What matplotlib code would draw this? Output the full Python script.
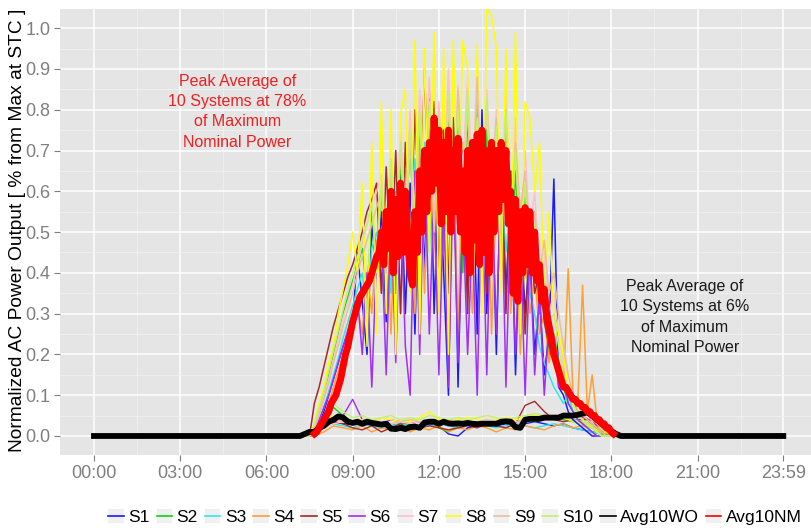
import numpy as np
import matplotlib
matplotlib.use("Agg")
import matplotlib.pyplot as plt
from matplotlib.lines import Line2D
from matplotlib.patches import Rectangle

plt.rcParams['font.family'] = ['Liberation Sans', 'DejaVu Sans']

# ---------------------------------------------------------------- data
series_names = ["S1", "S2", "S3", "S4", "S5", "S6", "S7", "S8", "S9", "S10"]
series_colors = ["#1a1aff", "#10d010", "#30e8e8", "#ffa030", "#a52a2a",
                 "#9f30f5", "#ffc0cb", "#ffff00", "#e8c09a", "#c4f06a"]

tick_hours = [0, 3, 6, 9, 12, 15, 18, 21, 23 + 59 / 60]
tick_labels = ["00:00", "03:00", "06:00", "09:00", "12:00", "15:00",
               "18:00", "21:00", "23:59"]

# clear day: 10-minute samples 07:00 .. 19:00 (one row per hour)
S1_nm = [0, 0, 0, 0, 0.01, 0.03,
         0.06, 0.10, 0.14, 0.18, 0.22, 0.25,
         0.28, 0.45, 0.33, 0.20, 0.52, 0.40,
         0.55, 0.28, 0.60, 0.35, 0.65, 0.30,
         0.62, 0.25, 0.70, 0.40, 0.85, 0.30,
         0.65, 0.40, 0.10, 0.78, 0.12, 0.60,
         0.35, 0.70, 0.25, 0.80, 0.30, 0.65,
         0.20, 0.70, 0.35, 0.60, 0.15, 0.55,
         0.30, 0.45, 0.20, 0.35, 0.15, 0.25,
         0.63, 0.12, 0.10, 0.06, 0.04, 0.03,
         0.02, 0.01, 0, 0, 0, 0,
         0, 0, 0, 0, 0, 0,
         0]
S2_nm = [0, 0, 0, 0, 0.02, 0.06,
         0.10, 0.15, 0.20, 0.25, 0.30, 0.34,
         0.38, 0.42, 0.46, 0.35, 0.55, 0.45,
         0.60, 0.40, 0.65, 0.35, 0.68, 0.50,
         0.72, 0.45, 0.75, 0.55, 0.80, 0.50,
         0.75, 0.45, 0.82, 0.50, 0.78, 0.40,
         0.80, 0.45, 0.85, 0.35, 0.75, 0.50,
         0.70, 0.40, 0.78, 0.45, 0.65, 0.35,
         0.60, 0.40, 0.50, 0.30, 0.35, 0.20,
         0.25, 0.18, 0.12, 0.08, 0.06, 0.05,
         0.04, 0.03, 0.02, 0.01, 0, 0,
         0, 0, 0, 0, 0, 0,
         0]
S3_nm = [0, 0, 0, 0, 0.01, 0.04,
         0.07, 0.11, 0.15, 0.19, 0.24, 0.28,
         0.32, 0.36, 0.40, 0.30, 0.46, 0.50,
         0.42, 0.55, 0.35, 0.60, 0.45, 0.62,
         0.40, 0.68, 0.50, 0.72, 0.45, 0.70,
         0.55, 0.68, 0.40, 0.70, 0.55, 0.65,
         0.45, 0.70, 0.50, 0.72, 0.40, 0.65,
         0.50, 0.62, 0.45, 0.58, 0.35, 0.50,
         0.40, 0.35, 0.30, 0.22, 0.18, 0.15,
         0.12, 0.10, 0.08, 0.10, 0.06, 0.04,
         0.03, 0.02, 0.01, 0, 0, 0,
         0, 0, 0, 0, 0, 0,
         0]
S4_nm = [0, 0, 0, 0, 0, 0.02,
         0.05, 0.08, 0.12, 0.16, 0.20, 0.24,
         0.28, 0.32, 0.25, 0.40, 0.30, 0.48,
         0.35, 0.55, 0.25, 0.60, 0.30, 0.65,
         0.50, 0.30, 0.70, 0.35, 0.72, 0.50,
         0.30, 0.75, 0.40, 0.70, 0.25, 0.72,
         0.50, 0.30, 0.70, 0.45, 0.68, 0.25,
         0.60, 0.40, 0.65, 0.30, 0.55, 0.20,
         0.45, 0.30, 0.40, 0.25, 0.30, 0.18,
         0.25, 0.15, 0.12, 0.41, 0.10, 0.08,
         0.37, 0.06, 0.15, 0.04, 0.02, 0.01,
         0, 0, 0, 0, 0, 0,
         0]
S5_nm = [0, 0, 0, 0, 0.08, 0.12,
         0.17, 0.22, 0.27, 0.31, 0.35, 0.39,
         0.42, 0.46, 0.50, 0.55, 0.58, 0.62,
         0.35, 0.66, 0.40, 0.70, 0.30, 0.72,
         0.45, 0.80, 0.50, 0.90, 0.55, 0.82,
         0.40, 0.75, 0.35, 0.78, 0.50, 0.70,
         0.30, 0.72, 0.45, 0.75, 0.35, 0.68,
         0.55, 0.70, 0.30, 0.65, 0.40, 0.55,
         0.25, 0.50, 0.35, 0.40, 0.28, 0.22,
         0.20, 0.15, 0.12, 0.10, 0.08, 0.06,
         0.05, 0.04, 0.03, 0.02, 0.01, 0,
         0, 0, 0, 0, 0, 0,
         0]
S6_nm = [0, 0, 0, 0, 0.01, 0.04,
         0.07, 0.10, 0.14, 0.18, 0.22, 0.26,
         0.30, 0.34, 0.20, 0.40, 0.12, 0.45,
         0.50, 0.15, 0.55, 0.18, 0.60, 0.22,
         0.10, 0.65, 0.20, 0.70, 0.25, 0.60,
         0.15, 0.58, 0.12, 0.65, 0.18, 0.55,
         0.20, 0.50, 0.10, 0.60, 0.15, 0.62,
         0.25, 0.65, 0.12, 0.55, 0.20, 0.50,
         0.10, 0.45, 0.15, 0.35, 0.10, 0.28,
         0.22, 0.12, 0.15, 0.08, 0.06, 0.04,
         0.03, 0.02, 0.01, 0, 0, 0,
         0, 0, 0, 0, 0, 0,
         0]
S7_nm = [0, 0, 0, 0, 0.02, 0.06,
         0.10, 0.14, 0.19, 0.24, 0.29, 0.33,
         0.37, 0.42, 0.47, 0.52, 0.56, 0.60,
         0.64, 0.45, 0.70, 0.50, 0.75, 0.55,
         0.80, 0.50, 0.85, 0.60, 0.88, 0.55,
         0.82, 0.60, 0.90, 0.55, 0.86, 0.65,
         0.88, 0.60, 0.92, 0.55, 0.85, 0.60,
         0.80, 0.55, 0.85, 0.50, 0.78, 0.45,
         0.70, 0.50, 0.60, 0.40, 0.45, 0.30,
         0.35, 0.25, 0.18, 0.12, 0.08, 0.05,
         0.04, 0.03, 0.02, 0.01, 0, 0,
         0, 0, 0, 0, 0, 0,
         0]
S8_nm = [0, 0, 0, 0, 0.03, 0.08,
         0.12, 0.18, 0.22, 0.30, 0.36, 0.42,
         0.50, 0.40, 0.62, 0.22, 0.72, 0.25,
         0.82, 0.30, 0.80, 0.20, 0.79, 0.85,
         0.35, 0.97, 0.25, 0.95, 0.45, 0.99,
         0.30, 0.95, 0.20, 0.97, 0.50, 0.97,
         0.90, 0.40, 0.96, 0.30, 1.05, 1.03,
         0.95, 0.35, 0.95, 0.40, 0.99, 0.25,
         0.82, 0.78, 0.60, 0.72, 0.35, 0.55,
         0.30, 0.25, 0.20, 0.12, 0.08, 0.05,
         0.04, 0.03, 0.02, 0.01, 0, 0,
         0, 0, 0, 0, 0, 0,
         0]
S9_nm = [0, 0, 0, 0, 0.02, 0.05,
         0.09, 0.13, 0.18, 0.22, 0.27, 0.31,
         0.35, 0.40, 0.44, 0.48, 0.52, 0.56,
         0.60, 0.40, 0.65, 0.45, 0.70, 0.50,
         0.72, 0.45, 0.78, 0.55, 0.80, 0.50,
         0.75, 0.55, 0.82, 0.50, 0.85, 0.60,
         0.80, 0.55, 0.88, 0.50, 0.82, 0.60,
         0.78, 0.50, 0.80, 0.45, 0.72, 0.55,
         0.65, 0.45, 0.55, 0.40, 0.48, 0.35,
         0.40, 0.30, 0.22, 0.15, 0.10, 0.06,
         0.05, 0.04, 0.03, 0.02, 0.01, 0,
         0, 0, 0, 0, 0, 0,
         0]
S10_nm = [0, 0, 0, 0, 0.03, 0.07,
          0.11, 0.16, 0.21, 0.26, 0.31, 0.36,
          0.40, 0.44, 0.48, 0.52, 0.57, 0.40,
          0.62, 0.45, 0.68, 0.50, 0.72, 0.48,
          0.75, 0.55, 0.80, 0.50, 0.82, 0.60,
          0.78, 0.55, 0.84, 0.60, 0.80, 0.52,
          0.85, 0.55, 0.78, 0.62, 0.83, 0.50,
          0.76, 0.52, 0.80, 0.48, 0.70, 0.45,
          0.62, 0.40, 0.52, 0.35, 0.40, 0.28,
          0.30, 0.22, 0.15, 0.10, 0.08, 0.05,
          0.04, 0.03, 0.02, 0.01, 0, 0,
          0, 0, 0, 0, 0, 0,
          0]

# clear-day average: 5-minute samples 07:00 .. 19:00 (one row per hour)
avg10_nm = [0, 0, 0, 0, 0, 0, 0, 0, 0.005, 0.01, 0.02, 0.03,
            0.04, 0.05, 0.06, 0.08, 0.09, 0.10, 0.12, 0.14, 0.17, 0.20, 0.22, 0.25,
            0.28, 0.30, 0.32, 0.34, 0.35, 0.36, 0.37, 0.38, 0.40, 0.42, 0.44, 0.45,
            0.50, 0.42, 0.55, 0.46, 0.60, 0.40, 0.58, 0.44, 0.62, 0.45, 0.60, 0.48,
            0.40, 0.37, 0.55, 0.45, 0.65, 0.50, 0.70, 0.55, 0.72, 0.60, 0.78, 0.62,
            0.75, 0.52, 0.72, 0.55, 0.75, 0.50, 0.70, 0.55, 0.73, 0.50, 0.65, 0.45,
            0.70, 0.40, 0.72, 0.48, 0.74, 0.42, 0.75, 0.45, 0.70, 0.40, 0.72, 0.50,
            0.70, 0.55, 0.72, 0.58, 0.70, 0.52, 0.60, 0.35, 0.58, 0.33, 0.55, 0.40,
            0.56, 0.42, 0.55, 0.40, 0.50, 0.38, 0.42, 0.33, 0.36, 0.30, 0.27, 0.24,
            0.20, 0.18, 0.16, 0.14, 0.12, 0.12, 0.11, 0.10, 0.09, 0.09, 0.08, 0.08,
            0.07, 0.07, 0.06, 0.06, 0.05, 0.05, 0.04, 0.04, 0.03, 0.03, 0.02, 0.02,
            0.01, 0.005, 0, 0, 0, 0, 0, 0, 0, 0, 0, 0,
            0]

# overcast day: 20-minute samples 07:00 .. 19:00 (one row per two hours)
S1_wo = [0, 0, 0.01, 0.02, 0.035, 0.03,
         0.03, 0.025, 0.03, 0.02, 0.025, 0.03,
         0.028, 0.02, 0.03, 0.025, 0.005, 0.0,
         0.02, 0.025, 0.03, 0.025, 0.03, 0.025,
         0.03, 0.035, 0.03, 0.025, 0.03, 0.02,
         0.015, 0.01, 0.005, 0, 0, 0,
         0]
S2_wo = [0, 0, 0.02, 0.045, 0.07, 0.05,
         0.035, 0.03, 0.025, 0.03, 0.02, 0.025,
         0.03, 0.025, 0.035, 0.02, 0.01, 0.025,
         0.03, 0.035, 0.03, 0.025, 0.035, 0.03,
         0.04, 0.035, 0.04, 0.045, 0.04, 0.035,
         0.03, 0.02, 0.01, 0.005, 0, 0,
         0]
S3_wo = [0, 0, 0.01, 0.025, 0.03, 0.025,
         0.02, 0.03, 0.025, 0.02, 0.025, 0.03,
         0.025, 0.02, 0.025, 0.03, 0.025, 0.02,
         0.025, 0.03, 0.025, 0.02, 0.025, 0.03,
         0.025, 0.02, 0.025, 0.03, 0.025, 0.02,
         0.015, 0.01, 0.005, 0, 0, 0,
         0]
S4_wo = [0, 0, 0, 0.01, 0.025, 0.02,
         0.015, 0.025, 0.01, 0.02, 0.015, 0.025,
         0.01, 0.02, 0.015, 0.025, 0.01, 0.02,
         0.015, 0.025, 0.02, 0.01, 0.02, 0.015,
         0.025, 0.02, 0.015, 0.025, 0.03, 0.02,
         0.025, 0.02, 0.015, 0.01, 0.005, 0,
         0]
S5_wo = [0, 0, 0.01, 0.025, 0.035, 0.03,
         0.02, 0.015, 0.025, 0.01, 0.02, 0.03,
         0.015, 0.02, 0.025, 0.02, 0.015, 0.02,
         0.025, 0.02, 0.03, 0.025, 0.02, 0.03,
         0.075, 0.085, 0.06, 0.04, 0.035, 0.04,
         0.04, 0.04, 0.01, 0.005, 0, 0,
         0]
S6_wo = [0, 0, 0.005, 0.02, 0.04, 0.05,
         0.09, 0.04, 0.035, 0.03, 0.04, 0.035,
         0.03, 0.035, 0.03, 0.035, 0.03, 0.025,
         0.03, 0.035, 0.03, 0.035, 0.04, 0.035,
         0.04, 0.045, 0.05, 0.045, 0.05, 0.05,
         0.045, 0.04, 0.03, 0.015, 0.005, 0,
         0]
S7_wo = [0, 0, 0.01, 0.02, 0.03, 0.035,
         0.03, 0.035, 0.03, 0.035, 0.03, 0.035,
         0.03, 0.035, 0.04, 0.035, 0.03, 0.035,
         0.035, 0.03, 0.035, 0.04, 0.035, 0.03,
         0.04, 0.045, 0.05, 0.05, 0.055, 0.05,
         0.05, 0.04, 0.02, 0.01, 0, 0,
         0]
S8_wo = [0, 0, 0.01, 0.03, 0.05, 0.04,
         0.035, 0.04, 0.03, 0.045, 0.04, 0.035,
         0.035, 0.045, 0.06, 0.04, 0.035, 0.04,
         0.045, 0.04, 0.035, 0.04, 0.045, 0.04,
         0.045, 0.05, 0.045, 0.04, 0.045, 0.035,
         0.03, 0.02, 0.01, 0.005, 0, 0,
         0]
S9_wo = [0, 0, 0.01, 0.025, 0.04, 0.035,
         0.03, 0.035, 0.04, 0.035, 0.03, 0.035,
         0.04, 0.035, 0.03, 0.035, 0.04, 0.035,
         0.03, 0.035, 0.04, 0.035, 0.03, 0.035,
         0.04, 0.045, 0.04, 0.05, 0.045, 0.04,
         0.035, 0.03, 0.015, 0.005, 0, 0,
         0]
S10_wo = [0, 0, 0.015, 0.04, 0.08, 0.06,
          0.045, 0.05, 0.04, 0.045, 0.05, 0.04,
          0.045, 0.04, 0.05, 0.045, 0.04, 0.045,
          0.04, 0.045, 0.05, 0.045, 0.04, 0.045,
          0.05, 0.055, 0.05, 0.045, 0.05, 0.04,
          0.035, 0.025, 0.015, 0.005, 0, 0,
          0]
# overcast-day average: 10-minute samples 07:00 .. 19:00 (one row per hour)
avg10_wo = [0, 0, 0.005, 0.01, 0.01, 0.02,
            0.025, 0.035, 0.04, 0.048, 0.045, 0.035,
            0.032, 0.035, 0.030, 0.035, 0.032, 0.03,
            0.028, 0.03, 0.018, 0.017, 0.02, 0.017,
            0.022, 0.023, 0.02, 0.033, 0.035, 0.035,
            0.03, 0.035, 0.031, 0.03, 0.031, 0.03,
            0.032, 0.03, 0.029, 0.03, 0.03, 0.03,
            0.03, 0.035, 0.036, 0.035, 0.022, 0.02,
            0.04, 0.042, 0.042, 0.042, 0.045, 0.045,
            0.045, 0.045, 0.05, 0.05, 0.05, 0.052,
            0.055, 0.058, 0.05, 0.04, 0.03, 0.02,
            0.012, 0.005, 0, 0, 0, 0,
            0]

nm_series = [S1_nm, S2_nm, S3_nm, S4_nm, S5_nm, S6_nm, S7_nm, S8_nm, S9_nm, S10_nm]
wo_series = [S1_wo, S2_wo, S3_wo, S4_wo, S5_wo, S6_wo, S7_wo, S8_wo, S9_wo, S10_wo]

t_5min = 7 + np.arange(145) / 12.0
t_10min = 7 + np.arange(73) / 6.0
t_20min = 7 + np.arange(37) / 3.0
DAY_END = 23 + 59 / 60


def full_day(t, v):
    """Extend a daytime profile with zero output from 00:00 to 23:59."""
    return (np.concatenate([[0.0], t, [DAY_END]]),
            np.concatenate([[0.0], np.asarray(v, float), [0.0]]))


def active_part(t, v):
    """Keep only the producing hours (plus one zero sample on each side)."""
    v = np.asarray(v, float)
    nz = np.nonzero(v)[0]
    lo, hi = max(nz[0] - 1, 0), min(nz[-1] + 2, len(v))
    return t[lo:hi], v[lo:hi]


# ---------------------------------------------------------------- figure
W, H = 811, 531
fig = plt.figure(figsize=(W / 100, H / 100), dpi=100, facecolor="white")
ax = fig.add_axes([60 / W, (H - 455) / H, (W - 60) / W, (455 - 9) / H])
ax.set_facecolor("#e5e5e5")

for v, c in zip(wo_series, series_colors):
    x, y = full_day(t_20min, v)
    ax.plot(x, y, color=c, lw=1.0, zorder=2, solid_joinstyle="round")
for v, c in zip(nm_series, series_colors):
    x, y = full_day(t_10min, v)
    ax.plot(x, y, color=c, lw=1.1, zorder=2, solid_joinstyle="round")

x, y = full_day(t_10min, avg10_wo)
ax.plot(x, y, color="black", lw=4.2, zorder=3, solid_joinstyle="round")
x, y = active_part(t_5min, avg10_nm)
ax.plot(x, y, color="#ff0000", lw=5.0, zorder=4, solid_joinstyle="round",
        solid_capstyle="butt")

# axes, grid
ax.set_xlim(-34 / 28.74, (W - 94) / 28.74)
ax.set_ylim(-0.0466, 1.047)
ax.set_xticks(tick_hours)
ax.set_xticklabels(tick_labels)
ax.set_xticks([1.5, 4.5, 7.5, 10.5, 13.5, 16.5, 19.5, 22.5], minor=True)
ax.set_yticks(np.round(np.arange(0, 1.01, 0.1), 1))
ax.set_yticks(np.arange(0.05, 1.05, 0.1), minor=True)
ax.grid(which="major", color="white", lw=1.1, zorder=1)
ax.grid(which="minor", color="#f2f2f2", lw=0.5, zorder=1)
ax.set_axisbelow(True)
for s in ax.spines.values():
    s.set_visible(False)
ax.tick_params(which="major", length=4, width=0.8, color="#7f7f7f",
               labelcolor="#7f7f7f", labelsize=13, pad=3)
ax.tick_params(axis="x", pad=3)
ax.tick_params(which="minor", length=0)

fig.text(18 / W, 1 - 230 / H, "Normalized AC Power Output [ % from Max at STC ]",
         rotation=90, ha="center", va="center", fontsize=13.8, color="black")

# annotations
ax.text(4.98, 0.795, "Peak Average of\n10 Systems at 78%\nof Maximum\nNominal Power",
        ha="center", va="center", multialignment="center", fontsize=11.5,
        color="#ee2020", linespacing=1.45, zorder=5)
ax.text(20.56, 0.292, "Peak Average of\n10 Systems at 6%\nof Maximum\nNominal Power",
        ha="center", va="center", multialignment="center", fontsize=11.5,
        color="#1a1a1a", linespacing=1.45, zorder=5)

# legend: grey key boxes with a short coloured line on each
def key(color):
    return (Rectangle((0, 0), 1, 1, facecolor="#f0f0f0", edgecolor="none"),
            Line2D([], [], color=color, lw=1.2))


handles = [key(c) for c in series_colors] + [key("black"), key("#ff0000")]
labels = series_names + ["Avg10WO", "Avg10NM"]
fig.legend(handles, labels, loc="center", bbox_to_anchor=(455 / W, 14 / H),
           ncol=12, frameon=False, fontsize=12.5, handlelength=0.9,
           handleheight=0.9, handletextpad=0.25, columnspacing=0.4, borderpad=0)

fig.savefig("out.png", dpi=100, facecolor="white")
